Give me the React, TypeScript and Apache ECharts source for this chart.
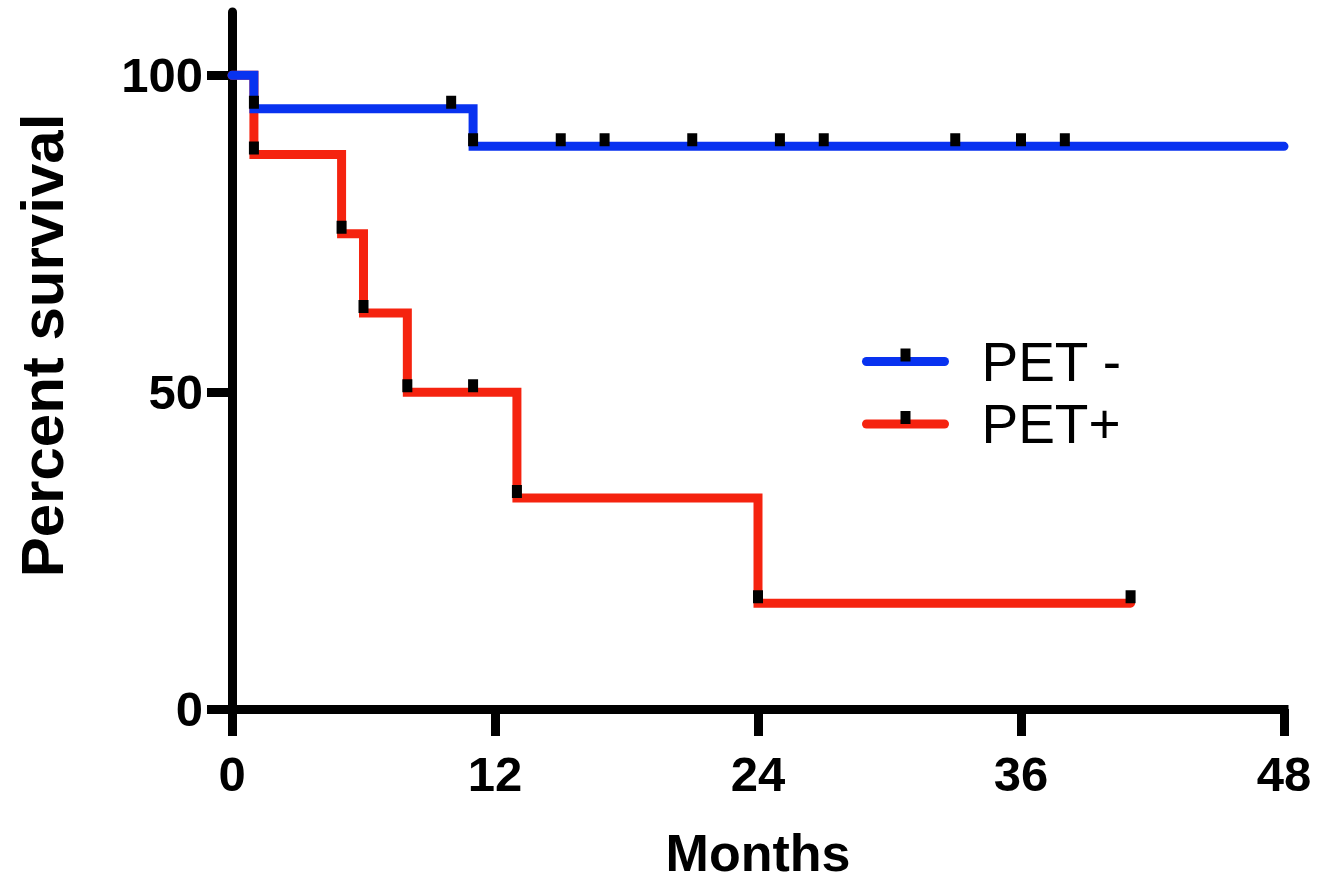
import React, { useEffect, useRef } from "react";
import * as echarts from "echarts";

// Kaplan-Meier step points [month, percent survival]; mark = censor tick drawn at the point
const petNegMonths = [0, 1, 10, 11, 15, 17, 21, 25, 27, 33, 36, 38, 48];
const petNegSurvival = [100, 94.74, 94.74, 88.8, 88.8, 88.8, 88.8, 88.8, 88.8, 88.8, 88.8, 88.8, 88.8];
const petNegMarks = [false, true, true, true, true, true, true, true, true, true, true, true, false];

const petPosMonths = [0, 1, 5, 6, 8, 11, 13, 24, 41];
const petPosSurvival = [100, 87.5, 75, 62.5, 50, 50, 33.3, 16.7, 16.7];
const petPosMarks = [false, true, true, true, true, true, true, true, true];

const xTicks = [0, 12, 24, 36, 48];
const yTicks = [0, 50, 100];

const FONT = "'Liberation Sans', Arial, Helvetica, sans-serif";
// censor tick: 10x13 rect in the upper-centre of a 26x26 symbol box
const MARK =
  "path://M8,0 L18,0 L18,13 L8,13 Z M0,26 L0.01,26 L0,25.99 Z M26,0 L25.99,0 L26,0.01 Z";

function buildData(months: number[], vals: number[], marks: boolean[]) {
  return months.map((m, i) =>
    marks[i] ? { value: [m, vals[i]] } : { value: [m, vals[i]], symbol: "none" }
  );
}

export default function App() {
  const ref = useRef<HTMLDivElement>(null);
  useEffect(() => {
    if (!ref.current) return;
    const chart = echarts.init(ref.current, undefined, { renderer: "svg" });
    chart.setOption({
      animation: false,
      backgroundColor: "#fff",
      grid: { left: 232, right: 34, top: 12, bottom: 171, containLabel: false },
      xAxis: {
        type: "value",
        min: 0,
        max: 48,
        interval: 12,
        name: "Months",
        nameLocation: "middle",
        nameGap: 144,
        nameTextStyle: { fontSize: 52, fontWeight: "bold", color: "#000", fontFamily: FONT, verticalAlign: "middle" },
        axisLine: { show: true, lineStyle: { color: "#000", width: 9, cap: "square" } },
        axisTick: { show: true, length: 27, lineStyle: { color: "#000", width: 9 }, customValues: xTicks },
        axisLabel: { fontSize: 49, fontWeight: "bold", color: "#000", fontFamily: FONT, margin: 40, customValues: xTicks },
        splitLine: { show: false },
      },
      yAxis: {
        type: "value",
        min: 0,
        max: 110,
        name: "Percent survival",
        nameLocation: "middle",
        nameGap: 190,
        nameTextStyle: { fontSize: 60, fontWeight: "bold", color: "#000", fontFamily: FONT, verticalAlign: "middle", padding: [0, 0, 0, 30] },
        axisLine: { show: true, lineStyle: { color: "#000", width: 9 } },
        axisTick: { show: true, length: 25, lineStyle: { color: "#000", width: 9 }, customValues: yTicks },
        axisLabel: { fontSize: 49, fontWeight: "bold", color: "#000", fontFamily: FONT, margin: 29, customValues: yTicks },
        splitLine: { show: false },
      },
      legend: {
        orient: "vertical",
        left: 862,
        top: 334,
        padding: 0,
        itemWidth: 78,
        itemHeight: 32.5,
        itemGap: 7.5,
        data: ["PET -", "PET+"],
        lineStyle: { width: 9, cap: "round" },
        textStyle: { fontSize: 55, color: "#000", fontFamily: FONT, padding: [0, 0, 0, 32] },
      },
      series: [
        {
          name: "PET+",
          type: "line",
          step: "end",
          data: buildData(petPosMonths, petPosSurvival, petPosMarks),
          symbol: MARK,
          symbolSize: 26,
          itemStyle: { color: "#000", borderWidth: 0 },
          lineStyle: { color: "#F5230F", width: 9, cap: "round", join: "miter" },
          z: 2,
        },
        {
          name: "PET -",
          type: "line",
          step: "end",
          data: buildData(petNegMonths, petNegSurvival, petNegMarks),
          symbol: MARK,
          symbolSize: 26,
          itemStyle: { color: "#000", borderWidth: 0 },
          lineStyle: { color: "#0832F0", width: 9, cap: "round", join: "miter" },
          z: 3,
        },
      ],
    });
    return () => chart.dispose();
  }, []);
  return <div ref={ref} style={{ position: "fixed", left: 0, top: 0, width: 1318, height: 884 }} />;
}
